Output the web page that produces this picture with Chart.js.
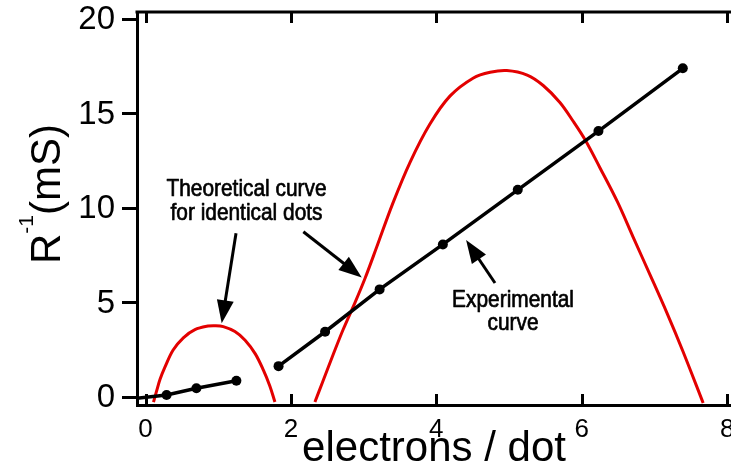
<!DOCTYPE html>
<html>
<head>
<meta charset="utf-8">
<style>
  html, body { margin: 0; padding: 0; background: #ffffff; }
  canvas { display: block; }
</style>
<script src="https://cdn.jsdelivr.net/npm/chart.js@4/dist/chart.umd.min.js"></script>
</head>
<body>
<canvas id="chart" width="731" height="470"></canvas>
<script>
// Measured conductance (black, with dots) and the theoretical curve for identical dots (red).
// x: electrons per dot, y: R^-1 in mS. A null value breaks the line into separate pieces.
const expX = [-0.12, 0.29, 0.70, 1.25, 1.50, 1.83, 2.47, 3.22, 4.09, 5.12, 6.23, 7.39];
const expY = [-0.05, 0.12, 0.48, 0.88, null, 1.65, 3.47, 5.71, 8.09, 10.98, 14.09, 17.41];

const theoryX = [
  0.11, 0.15, 0.20, 0.27, 0.38, 0.52, 0.68, 0.86, 0.96, 1.07, 1.23, 1.37, 1.51, 1.62, 1.71, 1.78,
  2.05,
  2.33, 2.44, 2.58, 2.72, 2.88, 3.02, 3.18, 3.40, 3.64, 3.91, 4.19, 4.51, 4.74, 4.97,
  5.25, 5.47, 5.70, 5.88, 6.05, 6.25, 6.49, 6.71, 6.94, 7.17, 7.39, 7.67
];
const theoryY = [
  -0.25, 0.30, 0.95, 1.62, 2.50, 3.15, 3.58, 3.77, 3.79, 3.74, 3.48, 3.02, 2.30, 1.45, 0.60, -0.25,
  null,
  -0.25, 0.85, 2.25, 3.60, 5.00, 6.30, 7.95, 10.25, 12.45, 14.45, 15.95, 16.90, 17.20, 17.29,
  17.05, 16.50, 15.60, 14.62, 13.60, 12.15, 10.35, 8.45, 6.48, 4.48, 2.45, -0.30
];

const xTicks = [0, 2, 4, 6, 8];
const yTicks = [0, 5, 10, 15, 20];

const xTitle = 'electrons / dot';
const yTitleMain = 'R';
const yTitleSup = '-1';
const yTitleUnit = '(mS)';

const notes = [
  { text: 'Theoretical curve', x: 1.389, y: 10.65 },
  { text: 'for identical dots', x: 1.389, y: 9.39 },
  { text: 'Experimental', x: 5.055, y: 4.79 },
  { text: 'curve', x: 5.055, y: 3.56 }
];
const arrows = [
  { from: [1.245, 8.68], to: [1.048, 3.92] },
  { from: [2.171, 8.76], to: [2.974, 6.34] },
  { from: [4.807, 6.05], to: [4.409, 8.32] }
];

const FONT = '"Liberation Sans", Arial, Helvetica, sans-serif';

const toPoints = (xs, ys) => xs.map((x, i) => ({ x: x, y: ys[i] }));

// Box frame with inward ticks on top and bottom, tick labels, the rotated y title and the callouts.
const decorations = {
  id: 'decorations',
  afterDraw(chart) {
    const { ctx, chartArea: a, scales } = chart;
    const sx = scales.x, sy = scales.y;
    ctx.save();
    ctx.strokeStyle = '#000';
    ctx.fillStyle = '#000';
    ctx.lineWidth = 3;
    ctx.lineCap = 'butt';

    ctx.beginPath();
    ctx.moveTo(a.left - 1.5, a.top);
    ctx.lineTo(a.right, a.top);
    ctx.stroke();

    xTicks.forEach(v => {
      const px = Math.round(sx.getPixelForValue(v)) + 0.5;
      ctx.beginPath();
      ctx.moveTo(px, a.top);
      ctx.lineTo(px, a.top + 11);
      ctx.moveTo(px, a.bottom);
      ctx.lineTo(px, a.bottom - 11);
      ctx.stroke();
    });

    // tick labels
    ctx.font = '26px ' + FONT;
    ctx.textAlign = 'center';
    ctx.textBaseline = 'alphabetic';
    xTicks.forEach(v => ctx.fillText(String(v), sx.getPixelForValue(v), a.bottom + 32));
    ctx.font = '33px ' + FONT;
    ctx.textAlign = 'right';
    ctx.textBaseline = 'middle';
    yTicks.forEach(v => ctx.fillText(String(v), a.left - 22, sy.getPixelForValue(v) + 1));

    // y title: R, raised "-1", then (mS), reading upward
    ctx.save();
    ctx.translate(60, 194);
    ctx.rotate(-Math.PI / 2);
    ctx.textAlign = 'left';
    ctx.textBaseline = 'alphabetic';
    ctx.font = '42px ' + FONT;
    const wR = ctx.measureText(yTitleMain).width;
    const wU = ctx.measureText(yTitleUnit).width;
    ctx.font = '21px ' + FONT;
    const wS = ctx.measureText(yTitleSup).width;
    const x0 = -(wR + wS + wU) / 2;
    ctx.font = '42px ' + FONT;
    ctx.fillText(yTitleMain, x0, 0);
    ctx.font = '21px ' + FONT;
    ctx.fillText(yTitleSup, x0 + wR, -27);
    ctx.font = '42px ' + FONT;
    ctx.fillText(yTitleUnit, x0 + wR + wS, 0);
    ctx.restore();

    // callout text, slightly condensed and heavy
    ctx.font = '24px ' + FONT;
    ctx.textAlign = 'center';
    ctx.textBaseline = 'alphabetic';
    ctx.lineJoin = 'round';
    notes.forEach(n => {
      ctx.save();
      ctx.translate(sx.getPixelForValue(n.x), sy.getPixelForValue(n.y));
      ctx.scale(0.87, 1);
      ctx.lineWidth = 0.7;
      ctx.fillText(n.text, 0, 0);
      ctx.strokeText(n.text, 0, 0);
      ctx.restore();
    });

    // callout arrows
    const headLen = 23, headHalf = 8.5;
    arrows.forEach(ar => {
      const x1 = sx.getPixelForValue(ar.from[0]), y1 = sy.getPixelForValue(ar.from[1]);
      const x2 = sx.getPixelForValue(ar.to[0]), y2 = sy.getPixelForValue(ar.to[1]);
      const ang = Math.atan2(y2 - y1, x2 - x1);
      const bx = x2 - headLen * Math.cos(ang), by = y2 - headLen * Math.sin(ang);
      ctx.lineWidth = 3;
      ctx.beginPath();
      ctx.moveTo(x1, y1);
      ctx.lineTo(bx + 2 * Math.cos(ang), by + 2 * Math.sin(ang));
      ctx.stroke();
      ctx.beginPath();
      ctx.moveTo(x2, y2);
      ctx.lineTo(bx + headHalf * Math.sin(ang), by - headHalf * Math.cos(ang));
      ctx.lineTo(bx - headHalf * Math.sin(ang), by + headHalf * Math.cos(ang));
      ctx.closePath();
      ctx.fill();
    });
    ctx.restore();
  }
};

new Chart(document.getElementById('chart'), {
  type: 'line',
  data: {
    datasets: [
      {
        label: 'Experimental curve',
        data: toPoints(expX, expY),
        borderColor: '#000000',
        backgroundColor: '#000000',
        borderWidth: 3.5,
        pointRadius: c => (c.raw && c.raw.x < 0 ? 0 : 5),
        pointBackgroundColor: '#000000',
        pointBorderWidth: 0,
        tension: 0,
        spanGaps: false,
        order: 0
      },
      {
        label: 'Theoretical curve for identical dots',
        data: toPoints(theoryX, theoryY),
        borderColor: '#e30000',
        borderWidth: 3,
        pointRadius: 0,
        tension: 0.35,
        spanGaps: false,
        order: 1
      }
    ]
  },
  options: {
    responsive: false,
    devicePixelRatio: 1,
    animation: false,
    events: [],
    layout: { autoPadding: false, padding: { top: 12, right: 0, bottom: 0, left: 0 } },
    plugins: {
      legend: { display: false },
      tooltip: { enabled: false },
      title: { display: false }
    },
    scales: {
      x: {
        type: 'linear',
        position: 'bottom',
        min: -0.117,
        max: 8.053,
        afterBuildTicks: s => { s.ticks = xTicks.map(v => ({ value: v })); },
        afterFit: s => { s.height = 65; },
        border: { display: true, color: '#000000', width: 3 },
        grid: { display: true, drawOnChartArea: false, drawTicks: false },
        ticks: { display: false },
        title: {
          display: true,
          text: xTitle,
          color: '#000000',
          font: { family: FONT, size: 42, lineHeight: 1 },
          padding: { top: 0, bottom: 0 }
        }
      },
      y: {
        type: 'linear',
        position: 'left',
        min: -0.407,
        max: 20.39,
        afterBuildTicks: s => { s.ticks = yTicks.map(v => ({ value: v })); },
        afterFit: s => { s.width = 137; },
        border: { display: true, color: '#000000', width: 3 },
        grid: {
          display: true,
          drawOnChartArea: false,
          drawTicks: true,
          tickLength: 15,
          tickWidth: 3,
          tickColor: '#000000'
        },
        ticks: { display: false }
      }
    }
  },
  plugins: [decorations]
});
</script>
</body>
</html>
